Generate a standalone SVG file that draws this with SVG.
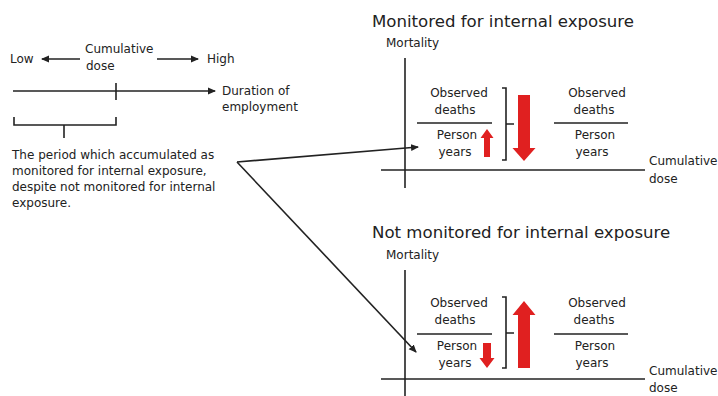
<svg xmlns="http://www.w3.org/2000/svg" width="718" height="396" viewBox="0 0 718 396">
<style>
text{font-family:"DejaVu Sans","Open Sans",sans-serif;fill:#222;font-size:12px}
.t{font-size:16.6px}
.c{text-anchor:middle}
.ln{stroke:#222;stroke-width:1.6;fill:none}
.red{fill:#e02020}
</style>
<defs>
<marker id="ah" markerWidth="8" markerHeight="8" refX="7" refY="4" orient="auto" markerUnits="userSpaceOnUse">
<path d="M0,0.5 L8,4 L0,7.5 Z" fill="#222"/>
</marker>
</defs>
<rect width="718" height="396" fill="#fff"/>

<g id="legend">
<text x="10" y="63">Low</text>
<text x="85" y="53">Cumulative</text>
<text x="86" y="70">dose</text>
<text x="207" y="63">High</text>
<line class="ln" x1="80" y1="59" x2="42" y2="59" marker-end="url(#ah)"/>
<line class="ln" x1="157" y1="59" x2="198" y2="59" marker-end="url(#ah)"/>
</g>

<g id="timeline">
<line class="ln" x1="13" y1="91" x2="215" y2="91" stroke-width="2" marker-end="url(#ah)"/>
<line class="ln" x1="116" y1="83" x2="116" y2="100" stroke-width="2"/>
<text x="222" y="95">Duration of</text>
<text x="222" y="111">employment</text>
</g>

<g id="period">
<path class="ln" stroke-width="1.2" d="M14,117 V125 H116 V117 M64,125 V138"/>
<text x="12" y="159">The period which accumulated as</text>
<text x="12" y="175">monitored for internal exposure,</text>
<text x="12" y="191">despite not monitored for internal</text>
<text x="12" y="207">exposure.</text>
</g>

<g id="connectors">
<line class="ln" x1="237" y1="162" x2="418" y2="147" marker-end="url(#ah)"/>
<line class="ln" x1="237" y1="162" x2="416" y2="352" marker-end="url(#ah)"/>
</g>

<g id="monitored">
<text class="t" x="372" y="27">Monitored for internal exposure</text>
<text x="386" y="47">Mortality</text>
<line class="ln" x1="405" y1="58" x2="405" y2="188"/>
<line class="ln" x1="381" y1="170" x2="645" y2="170"/>
<text x="649" y="165">Cumulative</text>
<text x="649" y="183">dose</text>
<text class="c" x="459" y="97">Observed</text>
<text class="c" x="455" y="114">deaths</text>
<line class="ln" x1="417" y1="123" x2="492" y2="123"/>
<text class="c" x="457" y="139">Person</text>
<text class="c" x="455" y="156">years</text>
<path class="red" d="M484,157 V138 H480.5 L487,129 L493.5,138 H490 V157 Z"/>
<path class="ln" stroke-width="1.2" d="M502,88 H506 V160 H502 M506,124 H514"/>
<path class="red" d="M518,95 H530 V148 H535.5 L524,161 L512.5,148 H518 Z"/>
<text class="c" x="597" y="97">Observed</text>
<text class="c" x="594" y="114">deaths</text>
<line class="ln" x1="554" y1="123" x2="628" y2="123"/>
<text class="c" x="595" y="139">Person</text>
<text class="c" x="592" y="156">years</text>
</g>

<g id="not-monitored">
<text class="t" x="372" y="238">Not monitored for internal exposure</text>
<text x="386" y="259">Mortality</text>
<line class="ln" x1="405" y1="270" x2="405" y2="396"/>
<line class="ln" x1="381" y1="379" x2="645" y2="379"/>
<text x="649" y="375">Cumulative</text>
<text x="649" y="392">dose</text>
<text class="c" x="459" y="307">Observed</text>
<text class="c" x="455" y="324">deaths</text>
<line class="ln" x1="417" y1="334" x2="492" y2="334"/>
<text class="c" x="457" y="350">Person</text>
<text class="c" x="455" y="367">years</text>
<path class="red" d="M483,343 H491 V358 H494.5 L487,368 L479.5,358 H483 Z"/>
<path class="ln" stroke-width="1.2" d="M502,297 H506 V368 H502 M506,333 H514"/>
<path class="red" d="M518,368 V315 H512.5 L524,301 L535.5,315 H530 V368 Z"/>
<text class="c" x="597" y="307">Observed</text>
<text class="c" x="594" y="324">deaths</text>
<line class="ln" x1="554" y1="334" x2="628" y2="334"/>
<text class="c" x="595" y="350">Person</text>
<text class="c" x="592" y="367">years</text>
</g>
</svg>
